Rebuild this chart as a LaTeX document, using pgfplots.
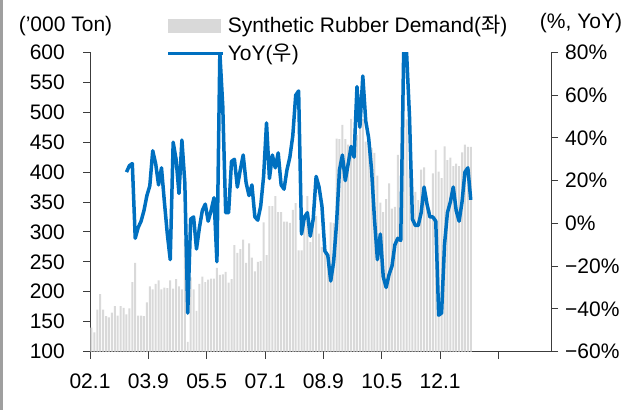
\documentclass[border=0pt]{standalone}
\usepackage{pgfplots}
\pgfplotsset{compat=1.18}
\usepackage{fontspec}
\setmainfont{Liberation Sans}
\newfontfamily\cjk{Noto Sans CJK KR}
\definecolor{barc}{RGB}{217,217,217}
\definecolor{linec}{RGB}{0,112,192}
\definecolor{axc}{RGB}{60,60,60}
\pgfplotstableread{
x y
0.5 140
1.5 132
2.5 170
3.5 196
4.5 170
5.5 159
6.5 157
7.5 165
8.5 176
9.5 160
10.5 176
11.5 173
12.5 162
13.5 172
14.5 216
15.5 248
16.5 160
17.5 160
18.5 159
19.5 182
20.5 209
21.5 204
22.5 213
23.5 219
24.5 204
25.5 207
26.5 206
27.5 219
28.5 205
29.5 221
30.5 209
31.5 204
32.5 288
33.5 116
34.5 224
35.5 204
36.5 168
37.5 213
38.5 225
39.5 216
40.5 220
41.5 222
42.5 222
43.5 240
44.5 228
45.5 229
46.5 233
47.5 215
48.5 221
49.5 278
50.5 265
51.5 271
52.5 287
53.5 248
54.5 281
55.5 257
56.5 234
57.5 250
58.5 251
59.5 316
60.5 261
61.5 343
62.5 343
63.5 360
64.5 333
65.5 333
66.5 317
67.5 317
68.5 315
69.5 337
70.5 348
71.5 269
72.5 269
73.5 317
74.5 360
75.5 283
76.5 343
77.5 327
78.5 297
79.5 275
80.5 264
81.5 253
82.5 316
83.5 315
84.5 456
85.5 455
86.5 479
87.5 455
88.5 446
89.5 489
90.5 470
91.5 462
92.5 473
93.5 489
94.5 451
95.5 461
96.5 440
97.5 432
98.5 394
99.5 349
100.5 333
101.5 355
102.5 381
103.5 339
104.5 342
105.5 429
106.5 373
107.5 600
108.5 488
109.5 404
110.5 389
111.5 367
112.5 353
113.5 404
114.5 408
115.5 359
116.5 337
117.5 398
118.5 437
119.5 401
120.5 390
121.5 443
122.5 420
123.5 424
124.5 410
125.5 414
126.5 410
127.5 433
128.5 446
129.5 442
130.5 442
}\demand
\pgfplotstableread{
x y
12.5 24
13.5 27
14.5 28
15.5 -7
16.5 -2
17.5 1
18.5 6
19.5 13
20.5 17.6
21.5 34
22.5 28
23.5 18
24.5 26
25.5 10
26.5 -5
27.5 -17
28.5 38
29.5 30
30.5 14
31.5 39
32.5 19
33.5 -42
34.5 2
35.5 3
36.5 -12
37.5 -2
38.5 6
39.5 9
40.5 1
41.5 6
42.5 12
43.5 -18
44.5 80
45.5 55
46.5 5
47.5 5
48.5 29
49.5 30
50.5 17
51.5 25
52.5 32
53.5 19
54.5 13
55.5 18
56.5 3
57.5 1.5
58.5 8
59.5 22
60.5 47
61.5 21
62.5 32
63.5 26
64.5 33
65.5 18
66.5 16
67.5 25
68.5 31
69.5 41
70.5 60
71.5 62
72.5 -5
73.5 3
74.5 5
75.5 -6
76.5 2
77.5 22
78.5 17
79.5 8
80.5 -13
81.5 -15
82.5 -27
83.5 -18
84.5 0
85.5 25
86.5 32
87.5 20
88.5 28
89.5 36
90.5 31
91.5 64
92.5 45
93.5 69
94.5 48
95.5 40
96.5 25
97.5 2
98.5 -17
99.5 -5
100.5 -25
101.5 -30
102.5 -24
103.5 -20
104.5 -10
105.5 -7
106.5 -8
107.5 80
108.5 80
109.5 50
110.5 2
111.5 -1
112.5 -1
113.5 5
114.5 17
115.5 9
116.5 3
117.5 3
118.5 1
119.5 -43
120.5 -42
121.5 -10
122.5 5
123.5 10
124.5 17
125.5 6
126.5 1
127.5 10
128.5 24
129.5 26
130.5 11
}\yoy
\begin{document}
\fontsize{21bp}{25bp}\selectfont
\begin{tikzpicture}
\useasboundingbox (0,0) rectangle (624bp,410bp);
\draw[gray!75, line width=2.5bp] (1.25bp,0) -- (1.25bp,410bp);
\node at (65.5bp,384bp) {('000 Ton)};
\node at (581bp,387bp) {(\%, YoY)};
\pgfplotsset{
  common/.style={
    at={(90bp,58.5bp)}, anchor=south west,
    scale only axis, width=461bp, height=299bp,
    xmin=0, xmax=158,
    tick align=outside, major tick length=7bp,
    axis line style={axc, line width=0.9bp, -},
    tick style={axc, line width=0.9bp},
    /pgf/number format/assume math mode=true,
  }
}
\begin{axis}[common,
  ymin=100, ymax=600,
  axis x line*=bottom, axis y line*=left,
  xtick={0,20,...,140},
  xticklabels={02.1,03.9,05.5,07.1,08.9,10.5,12.1,{}},
  ytick={100,150,...,600},
  yticklabels={100,150,200,250,300,350,400,450,500,550,600},
  xticklabel style={yshift=-8bp},
  yticklabel style={xshift=-11bp},
  legend cell align=left,
  legend style={at={(axis description cs:0.165,1.125)}, anchor=north west,
    draw=none, fill=none, inner sep=0pt, row sep=8bp, column sep=3bp,
    nodes={inner sep=0pt}},
]
\addplot[draw=none, fill=barc, ybar, bar width=0.68,
  legend image code/.code={\fill[barc] (0bp,-7bp) rectangle (53bp,7bp);}]
  table[x=x,y=y] {\demand};
\addlegendentry{Synthetic Rubber Demand({\cjk 좌})}
\addlegendimage{legend image code/.code={\draw[linec, line width=3.5bp] (0bp,0bp) -- (55bp,0bp);}}
\addlegendentry{YoY({\cjk 우})}
\end{axis}
\begin{axis}[common,
  ymin=-60, ymax=80,
  axis x line=none, axis y line*=right,
  ytick={-60,-40,...,80},
  yticklabels={−60\%,−40\%,−20\%,0\%,20\%,40\%,60\%,80\%},
]
\addplot[linec, line width=3.5bp, line join=round, no marks] table[x=x,y=y] {\yoy};
\end{axis}
\end{tikzpicture}
\end{document}
